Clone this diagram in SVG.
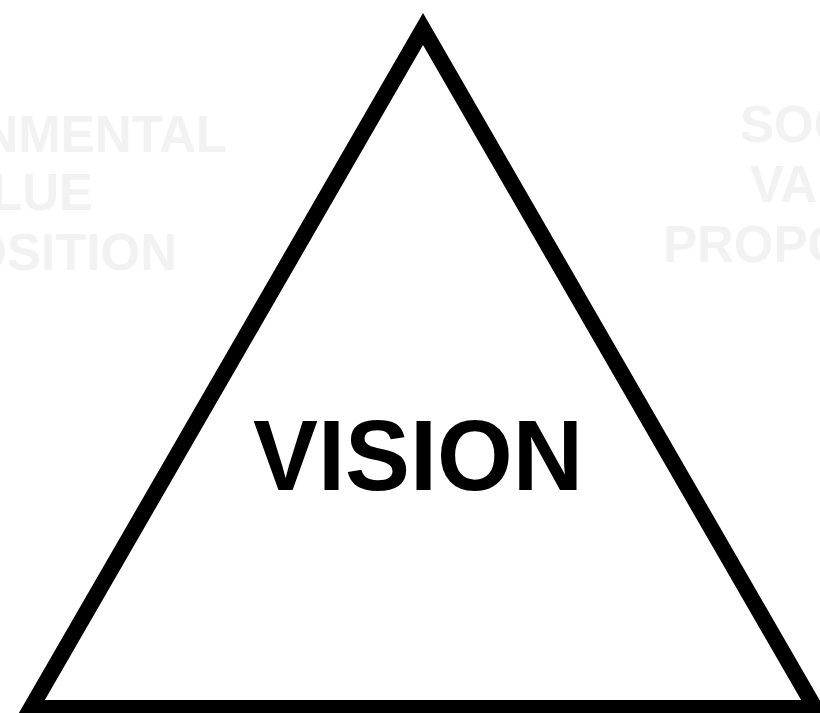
<svg xmlns="http://www.w3.org/2000/svg" width="820" height="713" viewBox="0 0 820 713">
  <style>
    .faint { font-family: "Liberation Sans", Arial, sans-serif; font-weight: bold; font-size: 51px; fill: #f2f2f2; }
    .main { font-family: "Liberation Sans", Arial, sans-serif; font-weight: bold; font-size: 100px; fill: #000000; }
  </style>
  <rect width="820" height="713" fill="#ffffff"/>
  <g id="env-label" class="faint" text-anchor="end">
    <text x="227" y="152">ENVIRONMENTAL</text>
    <text x="93" y="210">VALUE</text>
    <text x="177" y="270">PROPOSITION</text>
  </g>
  <g id="social-label" class="faint" text-anchor="start">
    <text x="740" y="142">SOCIAL</text>
    <text x="750" y="202">VALUE</text>
    <text x="663" y="262">PROPOSITION</text>
  </g>
  <g id="vision">
    <polygon points="423,29 815,708 31,708" fill="#ffffff" stroke="#000000" stroke-width="16" stroke-linejoin="miter"/>
    <text class="main" x="418" y="490" text-anchor="middle" textLength="330" lengthAdjust="spacingAndGlyphs">VISION</text>
  </g>
</svg>
